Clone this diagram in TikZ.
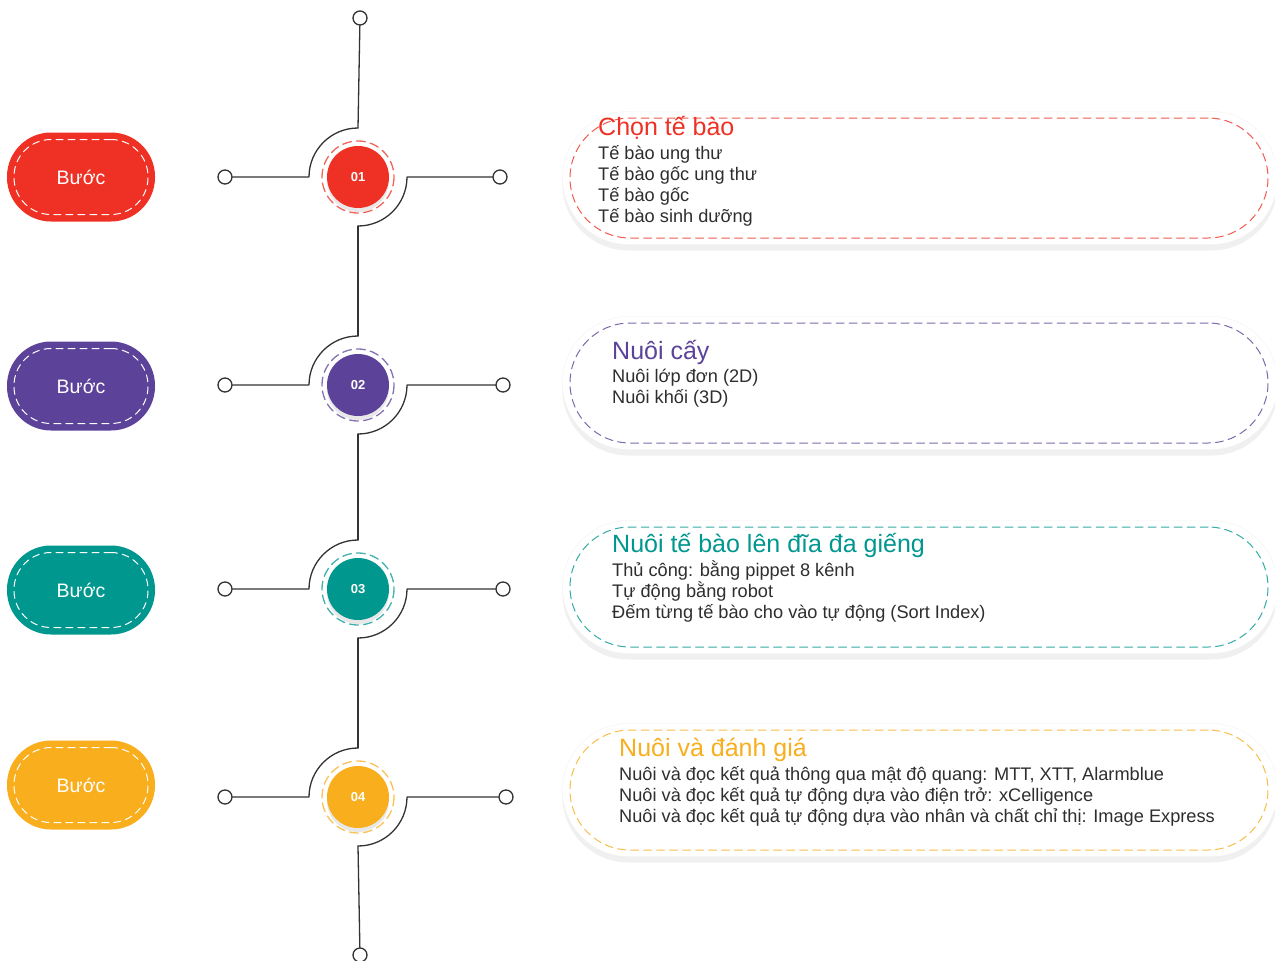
\documentclass[tikz,border=0pt]{standalone}
\usepackage{fontspec}
\setmainfont{Liberation Sans}
\usetikzlibrary{shadows}
\definecolor{cred}{HTML}{EE3124}
\definecolor{cpurple}{HTML}{5C4399}
\definecolor{cteal}{HTML}{00978F}
\definecolor{corange}{HTML}{F8AE1D}
\definecolor{ink}{HTML}{2E2E2E}
\begin{document}
\begin{tikzpicture}[x=1pt, y=-1pt, line join=round, line cap=round,
    wire/.style={draw=black!80, line width=1.3pt},
    endpt/.style={circle, draw=black!80, line width=1.3pt, fill=white, minimum size=14pt, inner sep=0pt},
    pill/.style={rounded corners=44pt, minimum width=148pt, minimum height=89pt, inner sep=0pt, text=white, font=\fontsize{19.5}{22}\selectfont},
    pillseam/.style={draw=white, line width=1pt, dash pattern=on 7pt off 5pt, rounded corners=37pt, minimum width=134pt, minimum height=75pt, inner sep=0pt},
    stepdot/.style={circle, minimum size=62pt, inner sep=0pt, text=white, font=\fontsize{13}{15}\selectfont\bfseries, drop shadow={opacity=0.18, shadow xshift=0pt, shadow yshift=-4pt}},
    card/.style={fill=white, draw=black!5, rounded corners=66pt, minimum width=715pt, minimum height=133pt, inner sep=0pt, drop shadow={opacity=0.12, shadow xshift=0pt, shadow yshift=-6pt}},
    cardseam/.style={line width=1pt, dash pattern=on 8pt off 5pt, rounded corners=60pt, minimum width=698pt, minimum height=120pt, inner sep=0pt},
    head/.style={anchor=base west, inner sep=0pt, font=\fontsize{25}{30}\selectfont},
    body/.style={anchor=base west, inner sep=0pt, text=ink, font=\fontsize{18.2}{21}\selectfont}]
\useasboundingbox (0,0) rectangle (1275,961);
\def\r{49}
% end points of the spine
\node[endpt] (t0) at (360,18) {};
\node[endpt] (b0) at (360,955) {};
\foreach \i/\y/\col/\rx/\py/\by in {1/177/cred/500/177/178, 2/385/cpurple/503/386/383, 3/589/cteal/503/590/587, 4/797/corange/506/785/790}{
  \coordinate (n\i) at (358,\y-\r);
  \coordinate (s\i) at (358,\y+\r);
  \coordinate (w\i) at (358-\r,\y);
  \coordinate (e\i) at (358+\r,\y);
  \node[endpt] (l\i) at (225,\y) {};
  \node[endpt] (r\i) at (\rx,\y) {};
  \draw[wire] (l\i) -- (w\i) arc[start angle=180, end angle=270, radius=\r];
  \draw[wire] (r\i) -- (e\i) arc[start angle=0, end angle=90, radius=\r];
  \node[stepdot, fill=\col] (c\i) at (358,\y) {0\i};
  \draw[\col!75, line width=1.3pt, dash pattern=on 9pt off 5pt] (c\i.center) circle[radius=36];
  \node[pill, fill=\col] (p\i) at (81,\py) {Bước};
  \node[pillseam] (q\i) at (p\i.center) {};
  \node[card] (k\i) at (920,\by) {};
  \node[cardseam, draw=\col!80] (d\i) at (919,\by) {};
}
\draw[wire] (t0) -- (n1);
\draw[wire] (s1) -- (n2);
\draw[wire] (s2) -- (n3);
\draw[wire] (s3) -- (n4);
\draw[wire] (s4) -- (b0);
% texts
\node[head, text=cred] (h1) at (598,135) {Chọn tế bào};
\foreach \t [count=\k] in {Tế bào ung thư, Tế bào gốc ung thư, Tế bào gốc, Tế bào sinh dưỡng}
  \node[body] (h1-\k) at (598,138+21*\k) {\t};
\node[head, text=cpurple] (h2) at (612,359) {Nuôi cấy};
\foreach \t [count=\k] in {Nuôi lớp đơn (2D), Nuôi khối (3D)}
  \node[body] (h2-\k) at (612,361+21*\k) {\t};
\node[head, text=cteal] (h3) at (612,552) {Nuôi tế bào lên đĩa đa giếng};
\foreach \t [count=\k] in {Thủ công: bằng pippet 8 kênh, Tự động bằng robot, Đếm từng tế bào cho vào tự động (Sort Index)}
  \node[body] (h3-\k) at (612,555+21*\k) {\t};
\node[head, text=corange] (h4) at (619,756) {Nuôi và đánh giá};
\foreach \t [count=\k] in {{Nuôi và đọc kết quả thông qua mật độ quang: MTT, XTT, Alarmblue}, Nuôi và đọc kết quả tự động dựa vào điện trở: xCelligence, Nuôi và đọc kết quả tự động dựa vào nhân và chất chỉ thị: Image Express}
  \node[body] (h4-\k) at (619,759+21*\k) {\t};
\end{tikzpicture}
\end{document}
